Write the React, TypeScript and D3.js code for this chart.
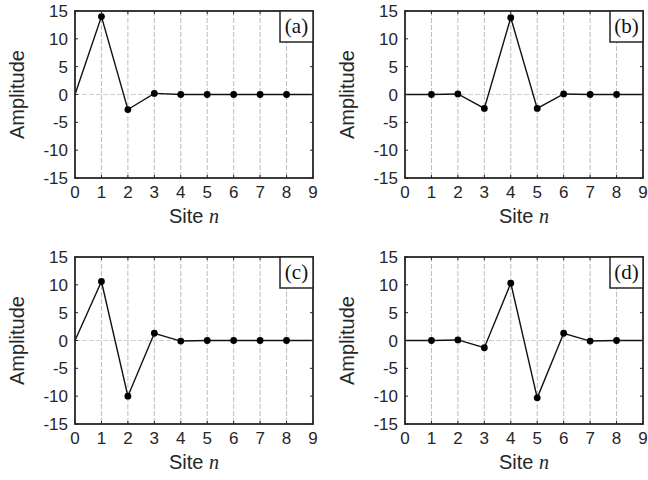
import React, { useEffect, useRef } from "react";
import * as d3 from "d3";

const sites = [0, 1, 2, 3, 4, 5, 6, 7, 8, 9];
const ampA = [0, 14, -2.7, 0.2, 0, 0, 0, 0, 0, 0];
const ampB = [0, 0, 0.1, -2.5, 13.8, -2.5, 0.1, 0, 0, 0];
const ampC = [0, 10.6, -10, 1.3, -0.1, 0, 0, 0, 0, 0];
const ampD = [0, 0, 0.1, -1.3, 10.3, -10.3, 1.3, -0.1, 0, 0];
const panelLabels = ["(a)", "(b)", "(c)", "(d)"];
const yTicks = [-15, -10, -5, 0, 5, 10, 15];

const W = 648;
const H = 480;

const panels = [
  { amp: ampA, label: panelLabels[0], left: 75, top: 11 },
  { amp: ampB, label: panelLabels[1], left: 405, top: 11 },
  { amp: ampC, label: panelLabels[2], left: 75, top: 257 },
  { amp: ampD, label: panelLabels[3], left: 405, top: 257 },
];

export default function App() {
  const ref = useRef<SVGSVGElement>(null);

  useEffect(() => {
    const svg = d3.select(ref.current);
    svg.selectAll("*").remove();

    const pw = 238;
    const ph = 167;
    const axisColor = "#262626";
    const sans = "Liberation Sans, Arial, Helvetica, sans-serif";

    panels.forEach((p) => {
      const g = svg.append("g").attr("transform", `translate(${p.left},${p.top})`);
      const x = d3.scaleLinear().domain([0, 9]).range([0, pw]);
      const y = d3.scaleLinear().domain([-15, 15]).range([ph, 0]);

      // vertical grid
      g.selectAll("line.grid")
        .data(sites.slice(1, -1))
        .enter()
        .append("line")
        .attr("x1", (d) => x(d))
        .attr("x2", (d) => x(d))
        .attr("y1", 0)
        .attr("y2", ph)
        .attr("stroke", "#bdbdbd")
        .attr("stroke-width", 1)
        .attr("stroke-dasharray", "5,2");

      // zero line
      g.append("line")
        .attr("x1", 0)
        .attr("x2", pw)
        .attr("y1", y(0))
        .attr("y2", y(0))
        .attr("stroke", "#cfcfcf")
        .attr("stroke-width", 1)
        .attr("stroke-dasharray", "5,2");

      // data line
      const line = d3
        .line<number>()
        .x((d, i) => x(sites[i]))
        .y((d) => y(d));
      g.append("path")
        .datum(p.amp)
        .attr("d", line)
        .attr("fill", "none")
        .attr("stroke", "#111")
        .attr("stroke-width", 1.4);

      g.selectAll("circle")
        .data(p.amp.slice(1, -1))
        .enter()
        .append("circle")
        .attr("cx", (d, i) => x(sites[i + 1]))
        .attr("cy", (d) => y(d))
        .attr("r", 3.4)
        .attr("fill", "#000");

      // frame
      g.append("rect")
        .attr("width", pw)
        .attr("height", ph)
        .attr("fill", "none")
        .attr("stroke", axisColor)
        .attr("stroke-width", 1.8);

      // ticks (inside)
      sites.forEach((s) => {
        g.append("line")
          .attr("x1", x(s)).attr("x2", x(s))
          .attr("y1", ph).attr("y2", ph - 3)
          .attr("stroke", axisColor);
        g.append("line")
          .attr("x1", x(s)).attr("x2", x(s))
          .attr("y1", 0).attr("y2", 3)
          .attr("stroke", axisColor);
        g.append("text")
          .attr("x", x(s))
          .attr("y", ph + 20)
          .attr("text-anchor", "middle")
          .attr("font-family", sans)
          .attr("font-size", 17)
          .attr("fill", axisColor)
          .text(s);
      });
      yTicks.forEach((t) => {
        g.append("line")
          .attr("x1", 0).attr("x2", 3)
          .attr("y1", y(t)).attr("y2", y(t))
          .attr("stroke", axisColor);
        g.append("line")
          .attr("x1", pw).attr("x2", pw - 3)
          .attr("y1", y(t)).attr("y2", y(t))
          .attr("stroke", axisColor);
        g.append("text")
          .attr("x", -7)
          .attr("y", y(t) + 6)
          .attr("text-anchor", "end")
          .attr("font-family", sans)
          .attr("font-size", 17)
          .attr("fill", axisColor)
          .text(t);
      });

      // axis labels
      const xl = g.append("text")
        .attr("x", pw / 2)
        .attr("y", ph + 45)
        .attr("text-anchor", "middle")
        .attr("font-family", sans)
        .attr("font-size", 20)
        .attr("fill", axisColor);
      xl.append("tspan").text("Site ");
      xl.append("tspan")
        .attr("font-family", "Liberation Serif, 'DejaVu Serif', serif")
        .attr("font-style", "italic")
        .text("n");

      g.append("text")
        .attr("transform", `translate(${-51},${ph / 2}) rotate(-90)`)
        .attr("text-anchor", "middle")
        .attr("font-family", sans)
        .attr("font-size", 20)
        .attr("fill", axisColor)
        .text("Amplitude");

      // panel label box
      const bw = 33;
      const bh = 31;
      g.append("rect")
        .attr("x", pw - bw)
        .attr("y", 0)
        .attr("width", bw)
        .attr("height", bh)
        .attr("fill", "#fff")
        .attr("stroke", axisColor)
        .attr("stroke-width", 1.5);
      g.append("text")
        .attr("x", pw - bw / 2)
        .attr("y", 22)
        .attr("text-anchor", "middle")
        .attr("font-family", "Liberation Serif, 'Times New Roman', serif")
        .attr("font-size", 21)
        .attr("fill", "#111")
        .text(p.label);
    });
  }, []);

  return (
    <div style={{ position: "absolute", left: 0, top: 0 }}>
      <svg ref={ref} width={W} height={H} style={{ display: "block", background: "#fff" }} />
    </div>
  );
}
